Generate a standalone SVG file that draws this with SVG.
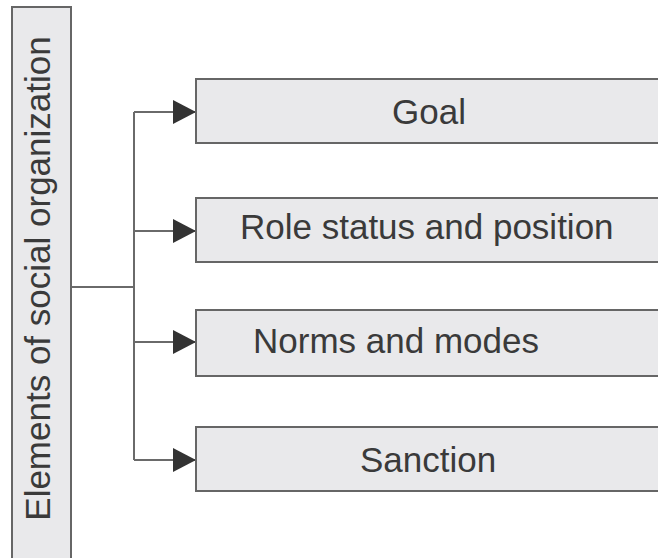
<svg xmlns="http://www.w3.org/2000/svg" width="658" height="558" viewBox="0 0 658 558">
<style>
.box{fill:#e9e9eb;stroke:#666;stroke-width:2}
.lbl{font-family:"Liberation Sans",Arial,sans-serif;font-size:35px;fill:#3a3a3a}
.ln{fill:none;stroke:#6a6a6a;stroke-width:2}
</style>
<defs>
<marker id="arr" markerUnits="userSpaceOnUse" markerWidth="24" markerHeight="24" refX="23" refY="12" orient="auto">
<path d="M0,0 L23,12 L0,24 Z" fill="#333"/>
</marker>
</defs>
<rect width="658" height="558" fill="#fff"/>
<g id="root">
<rect class="box" x="12" y="7" width="59" height="570"/>
<text class="lbl" transform="translate(50,278.5) rotate(-90)" text-anchor="middle">Elements of social organization</text>
</g>
<g id="connectors">
<path class="ln" d="M72,287 H134"/>
<path class="ln" d="M134,112 V460"/>
<path class="ln" d="M134,112 H196" marker-end="url(#arr)"/>
<path class="ln" d="M134,231 H196" marker-end="url(#arr)"/>
<path class="ln" d="M134,342 H196" marker-end="url(#arr)"/>
<path class="ln" d="M134,460 H196" marker-end="url(#arr)"/>
</g>
<g id="goal">
<rect class="box" x="196" y="79" width="480" height="64"/>
<text class="lbl" x="392" y="124">Goal</text>
</g>
<g id="role">
<rect class="box" x="196" y="198" width="480" height="64"/>
<text class="lbl" x="240" y="239">Role status and position</text>
</g>
<g id="norms">
<rect class="box" x="196" y="310" width="480" height="66"/>
<text class="lbl" x="253" y="353">Norms and modes</text>
</g>
<g id="sanction">
<rect class="box" x="196" y="427" width="480" height="64"/>
<text class="lbl" x="360" y="472">Sanction</text>
</g>
</svg>
